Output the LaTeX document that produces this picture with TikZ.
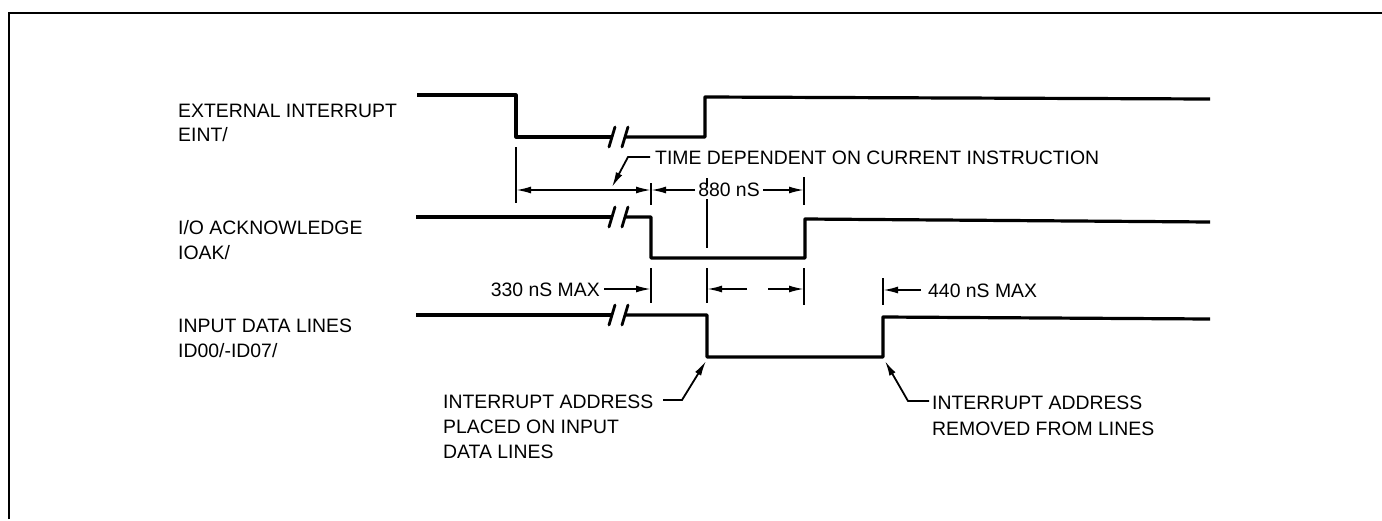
\documentclass[tikz,border=0pt]{standalone}
\usepackage{fontspec}
\setmainfont{Liberation Sans}
\usetikzlibrary{arrows.meta}
\begin{document}
\begin{tikzpicture}[x=1pt,y=-1pt,
  sig/.style={line width=3.2pt, line join=round},
  brk/.style={line width=2.8pt, line cap=round},
  frame/.style={line width=2.4pt},
  tick/.style={line width=1.5pt},
  dim/.style={line width=1.8pt},
  tip/.style={-{Latex[length=15pt,width=7pt]}},
  lbl/.style={font=\fontsize{19.4}{25}\selectfont, inner sep=0pt},
]
\useasboundingbox (0,0) rectangle (1382,520);
% frame
\draw[frame] (9,519) -- (9,13) -- (1382,13);

% ---- signal labels
\node[lbl, anchor=base west] (l1a) at (178,117) {EXTERNAL INTERRUPT};
\node[lbl, anchor=base west] (l1b) at (178,141) {EINT/};
\node[lbl, anchor=base west] (l2a) at (178,234) {I/O ACKNOWLEDGE};
\node[lbl, anchor=base west] (l2b) at (178,259) {IOAK/};
\node[lbl, anchor=base west] (l3a) at (178,332) {INPUT DATA LINES};
\node[lbl, anchor=base west] (l3b) at (178,357) {ID00/-ID07/};

% ---- EINT/
\draw[sig] (417,95) -- (516,95) -- (516,137) -- (612,137);
\draw[sig] (626,137) -- (705,137) -- (705,97) -- (1210,99);
\draw[brk] (609,147) -- (615,127);
\draw[brk] (622,147) -- (628,127);

% ---- IOAK/
\draw[sig] (416,217) -- (612,217);
\draw[sig] (626,217) -- (651,217) -- (651,258) -- (805,258) -- (805,219) -- (1210,222);
\draw[brk] (609,227) -- (615,207);
\draw[brk] (622,227) -- (628,207);

% ---- ID00/-ID07/
\draw[sig] (416,315) -- (612,315);
\draw[sig] (626,315) -- (707,315) -- (707,357) -- (883,357) -- (883,317) -- (1210,319);
\draw[brk] (609,325) -- (615,305);
\draw[brk] (622,325) -- (628,305);

% ---- row 1 dimensions
\coordinate (a1) at (516,190);
\coordinate (b1) at (651,190);
\coordinate (c1) at (804,190);
\draw[tick] (516,147) -- (516,203);
\draw[tick] (651,183) -- (651,205);
\draw[tick] (804,177) -- (804,205);
\draw[dim, {Latex[length=15pt,width=7pt]}-{Latex[length=15pt,width=7pt]}] (a1) -- (b1);
\node[lbl, anchor=base] (t880) at (729,196) {880 nS};
\draw[dim, tip] (695,190) -- (b1);
\draw[dim, tip] (763,190) -- (c1);
\draw[tick] (707,178) -- (707,186);
\draw[tick] (707,199) -- (707,248);

\node[lbl, anchor=base west] (tdep) at (655,164) {TIME DEPENDENT ON CURRENT INSTRUCTION};
\coordinate (tdk) at (628,157);
\coordinate (tdt) at (612,187);
\draw[dim, tip] (650,157) -- (tdk) -- (tdt);

% ---- row 3 dimensions
\draw[tick] (651,268) -- (651,303);
\draw[tick] (707,268) -- (707,303);
\draw[tick] (804,268) -- (804,305);
\draw[tick] (883,278) -- (883,305);
\node[lbl, anchor=base east] (t330) at (600,296) {330 nS MAX};
\draw[dim, tip] (604,289) -- (651,289);
\draw[dim, tip] (747,289) -- (707,289);
\draw[dim, tip] (768,289) -- (804,289);
\node[lbl, anchor=base west] (t440) at (928,297) {440 nS MAX};
\draw[dim, tip] (921,290) -- (883,290);

% ---- bottom annotations
\node[lbl, anchor=base west] (pl1) at (443,408) {INTERRUPT ADDRESS};
\node[lbl, anchor=base west] (pl2) at (443,433) {PLACED ON INPUT};
\node[lbl, anchor=base west] (pl3) at (443,458) {DATA LINES};
\coordinate (plk) at (682,400);
\draw[dim, tip] (663,400) -- (plk) -- (706,361);

\node[lbl, anchor=base west] (rm1) at (932,409) {INTERRUPT ADDRESS};
\node[lbl, anchor=base west] (rm2) at (932,435) {REMOVED FROM LINES};
\coordinate (rmk) at (908,401);
\draw[dim, tip] (929,401) -- (rmk) -- (885,361);
\end{tikzpicture}
\end{document}
